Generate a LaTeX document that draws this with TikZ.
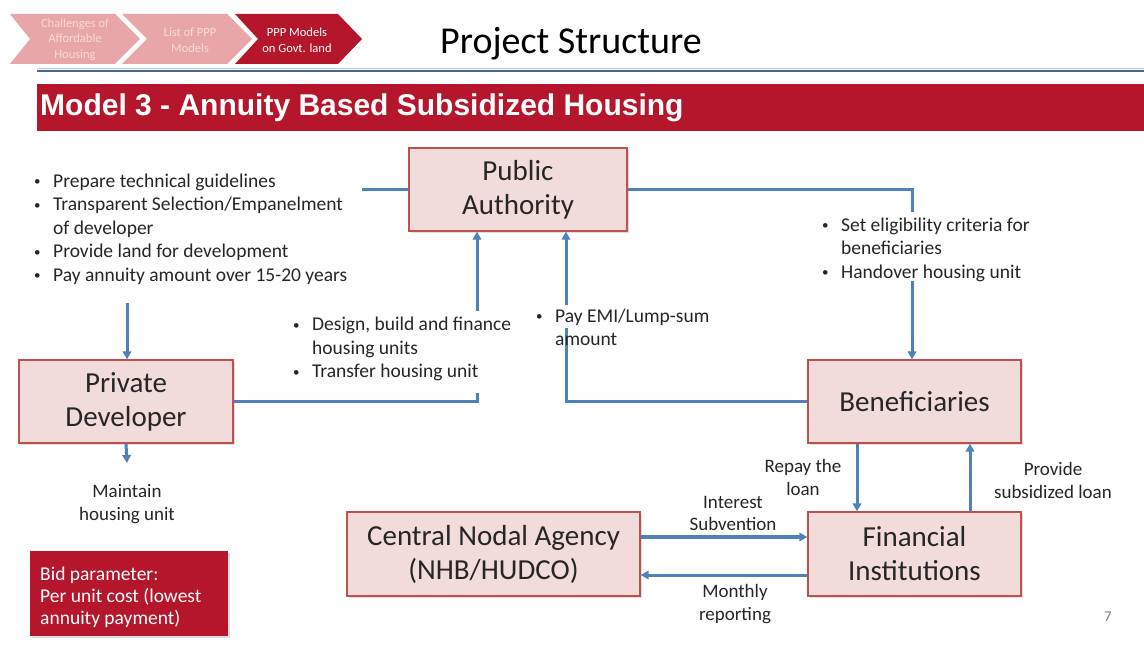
\documentclass[tikz,border=0pt]{standalone}
\usepackage{fontspec}
\setmainfont{Carlito}
\newfontfamily\hdrfont{Liberation Sans}
\usetikzlibrary{arrows.meta,shadows}
\definecolor{boxfill}{HTML}{F2DCDB}
\definecolor{boxline}{HTML}{C0504D}
\definecolor{conn}{HTML}{4F81BD}
\definecolor{hdrred}{HTML}{B5162C}
\definecolor{chevlight}{HTML}{E8A6A8}
\definecolor{chevtext}{HTML}{F7DADA}
\definecolor{txtc}{HTML}{262626}
\definecolor{rulec}{HTML}{44678A}
\newcommand\itm{\makebox[19pt][l]{\raisebox{1.5pt}{\fontsize{13}{13}\selectfont •}}}
\begin{document}
\begin{tikzpicture}[x=1pt,y=-1pt,
 box/.style={draw=boxline, fill=boxfill, line width=1.3pt, align=center, inner sep=0pt, text=txtc,
   font=\fontsize{29}{34}\selectfont, drop shadow={opacity=0.25, shadow xshift=1.5pt, shadow yshift=-1.5pt}},
 lbl/.style={align=center, text=txtc, font=\fontsize{19}{22.5}\selectfont, inner sep=0pt},
 lst/.style={align=left, text=txtc, font=\fontsize{19.5}{23.5}\selectfont, inner sep=0pt},
 chev/.style={align=center, font=\fontsize{12.5}{15.5}\selectfont, inner sep=0pt},
 link/.style={draw=conn, line width=3pt},
 arr/.style={link, -{Triangle[length=8pt,width=8.5pt]}},
 ]
\useasboundingbox (0,0) rectangle (1144,650);
\fill[white] (0,0) rectangle (1144,650);

% breadcrumb chevrons
\fill[chevlight] (10,14) -- (115,14) -- (140,39) -- (115,64) -- (10,64) -- (30,39) -- cycle;
\fill[chevlight] (122,14) -- (227,14) -- (252,39) -- (227,64) -- (122,64) -- (147,39) -- cycle;
\fill[hdrred] (235,14) -- (338,14) -- (362,39) -- (338,64) -- (235,64) -- (258,39) -- cycle;
\node[chev, text=chevtext] (ch1) at (75,39.5) {Challenges of\\Affordable\\Housing};
\node[chev, text=chevtext] (ch2) at (190,40) {List of PPP\\Models};
\node[chev, text=white] (ch3) at (297,40) {PPP Models\\on Govt. land};

% title and rule
\node[font=\fontsize{38}{40}\selectfont, text=black, inner sep=0pt] (title) at (571,44) {Project Structure};
\draw[rulec!35, line width=1pt] (37,68.5) -- (1144,68.5);
\draw[rulec, line width=2.5pt] (37,71) -- (1144,71);

% header bar
\node[fill=hdrred, anchor=north west, minimum width=1107pt, minimum height=47pt, inner sep=0pt] (bar) at (37,84) {};
\node[anchor=west, font=\hdrfont\bfseries\fontsize{30}{32}\selectfont, text=white, inner sep=0pt] (hdr) at (40,108) {Model 3 - Annuity Based Subsidized Housing};

% boxes
\node[box, minimum width=218pt, minimum height=83pt] (pa) at (518,189.5) {Public\\Authority};
\node[box, minimum width=214pt, minimum height=83pt] (pd) at (126,401.5) {Private\\Developer};
\node[box, minimum width=213pt, minimum height=83pt] (ben) at (914.5,401.5) {Beneficiaries};
\node[box, minimum width=293pt, minimum height=84pt] (cna) at (493.5,554) {Central Nodal Agency\\(NHB/HUDCO)};
\node[box, minimum width=213pt, minimum height=84pt] (fi) at (914.5,554) {Financial\\Institutions};

% bid parameter
\node[fill=hdrred, anchor=north west, inner sep=0pt, minimum width=198pt, minimum height=85pt,
  drop shadow={opacity=0.25, shadow xshift=1.5pt, shadow yshift=-1.5pt}] (bid) at (30,551) {};
\node[anchor=west, align=left, inner sep=0pt, text=white, font=\fontsize{19.5}{22}\selectfont] (bidtxt) at (40,597) {Bid parameter:\\Per unit cost (lowest\\annuity payment)};

% connectors
\coordinate (c1) at (362,189.5);
\draw[link] (pa.west) -- (c1);
\coordinate (c2) at (127,303);
\draw[arr] (c2) -- (c2 |- pd.north);
\coordinate (c3) at (477,393);
\draw[link] (pd.east) -| (c3);
\coordinate (c4) at (477,311);
\draw[arr] (c4) -- (c4 |- pa.south);
\coordinate (c5) at (566,328);
\draw[link] (ben.west) -| (c5);
\coordinate (c6) at (566,305);
\draw[arr] (c6) -- (c6 |- pa.south);
\coordinate (c7) at (912,212);
\draw[link] (pa.east) -| (c7);
\coordinate (c8) at (912,281);
\draw[arr] (c8) -- (c8 |- ben.north);
\draw[arr] ([xshift=-57.5pt]ben.south) -- ([xshift=-57.5pt]fi.north);
\draw[arr] ([xshift=55.5pt]fi.north) -- ([xshift=55.5pt]ben.south);
\draw[arr, line width=4.5pt] ([yshift=17pt]cna.east) -- ([yshift=17pt]fi.west);
\draw[arr] ([yshift=-21pt]fi.west) -- ([yshift=-21pt]cna.east);
\coordinate (c9) at (127,463);
\draw[arr] (pd.south) -- (c9);

% labels
\node[lbl] (repay) at (803,477.5) {Repay the\\loan};
\node[lbl] (provide) at (1053,480.5) {Provide\\subsidized loan};
\node[lbl] (interest) at (733,513.5) {Interest\\Subvention};
\node[lbl] (monthly) at (735,604) {Monthly\\reporting};
\node[lbl] (maintain) at (127,504) {Maintain\\housing unit};

% bullet lists
\node[lst, anchor=west] (list1) at (34,229) {\itm Prepare technical guidelines\\\itm Transparent Selection/Empanelment\\\hspace*{19pt}of developer\\\itm Provide land for development\\\itm Pay annuity amount over 15-20 years};
\node[lst, anchor=west] (list2) at (293,349) {\itm Design, build and finance\\\hspace*{19pt}housing units\\\itm Transfer housing unit};
\node[lst, anchor=west] (list3) at (536,327.5) {\itm Pay EMI/Lump-sum\\\hspace*{19pt}amount};
\node[lst, anchor=west] (list4) at (822,249.5) {\itm Set eligibility criteria for\\\hspace*{19pt}beneficiaries\\\itm Handover housing unit};

% page number
\node[text=gray, font=\fontsize{15}{15}\selectfont, inner sep=0pt] (pg) at (1108,617) {7};
\end{tikzpicture}
\end{document}
